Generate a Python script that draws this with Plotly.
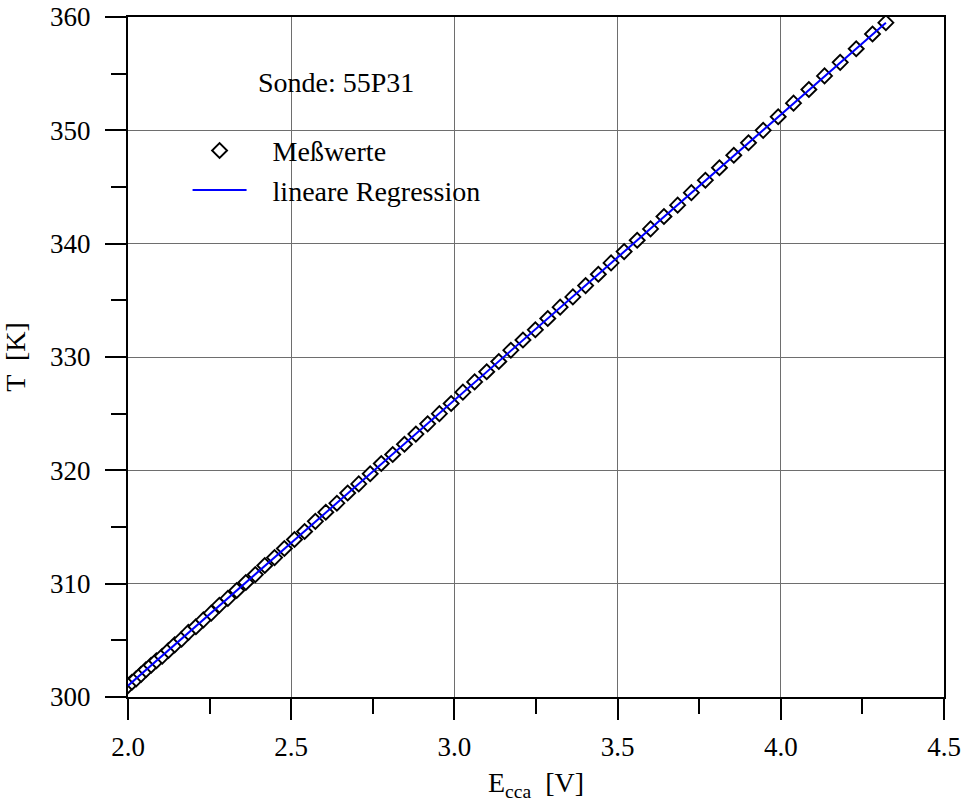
import plotly.graph_objects as go

# Measured values (E_cca in V, T in K)
E_meas = [2.000, 2.012, 2.025, 2.040, 2.055, 2.071, 2.087, 2.105, 2.124, 2.143,
          2.164, 2.185, 2.208, 2.231, 2.255, 2.280, 2.306, 2.333, 2.361, 2.390,
          2.419, 2.449, 2.479, 2.510, 2.541, 2.574, 2.606, 2.640, 2.673, 2.707,
          2.742, 2.776, 2.811, 2.847, 2.882, 2.918, 2.954, 2.990, 3.026, 3.062,
          3.099, 3.136, 3.173, 3.210, 3.248, 3.286, 3.324, 3.363, 3.402, 3.441,
          3.480, 3.520, 3.560, 3.601, 3.642, 3.684, 3.726, 3.769, 3.812, 3.856,
          3.901, 3.946, 3.992, 4.039, 4.086, 4.134, 4.182, 4.231, 4.281, 4.322]
T_meas = [301.0, 301.3, 301.6, 302.0, 302.4, 302.8, 303.2, 303.6, 304.1, 304.6,
          305.1, 305.7, 306.2, 306.8, 307.4, 308.1, 308.7, 309.4, 310.1, 310.8,
          311.6, 312.3, 313.1, 313.9, 314.6, 315.5, 316.3, 317.1, 318.0, 318.8,
          319.7, 320.6, 321.4, 322.3, 323.2, 324.1, 325.0, 325.9, 326.9, 327.8,
          328.7, 329.6, 330.6, 331.5, 332.4, 333.4, 334.4, 335.3, 336.3, 337.3,
          338.3, 339.3, 340.3, 341.3, 342.4, 343.4, 344.5, 345.6, 346.7, 347.8,
          348.9, 350.0, 351.2, 352.4, 353.6, 354.8, 356.0, 357.2, 358.5, 359.5]

# Linear regression line endpoints
E_fit = [2.000, 4.322]
T_fit = [301.0, 359.5]

x_ticks = [2.0, 2.5, 3.0, 3.5, 4.0, 4.5]
x_tick_labels = ["2.0", "2.5", "3.0", "3.5", "4.0", "4.5"]
y_ticks = [300, 310, 320, 330, 340, 350, 360]
y_tick_labels = ["300", "310", "320", "330", "340", "350", "360"]

FONT = "Liberation Serif"
FS_TICK = 27
FS = 28
NB = "\u00a0"

fig = go.Figure()
fig.add_trace(go.Scatter(
    x=E_meas, y=T_meas, mode="markers", name=NB * 3 + "Meßwerte",
    marker=dict(symbol="diamond", size=11.5, color="white",
                line=dict(color="black", width=1.9)),
))
fig.add_trace(go.Scatter(
    x=E_fit, y=T_fit, mode="lines", name=NB * 3 + "lineare Regression",
    line=dict(color="#0000ff", width=2),
))

axis_common = dict(
    showline=True, linecolor="black", linewidth=2, mirror=True,
    showgrid=True, gridcolor="#6e6e6e", gridwidth=1,
    zeroline=False, automargin=False, ticklabeloverflow="allow",
    ticks="outside", tickcolor="black", tickwidth=2, ticklen=21,
    tickfont=dict(family=FONT, size=FS_TICK, color="black"),
)

fig.update_xaxes(
    range=[2.0, 4.5], tickvals=x_ticks, ticktext=x_tick_labels,
    ticklabelstandoff=4,
    minor=dict(dtick=0.25, tick0=2.0, ticks="outside", ticklen=15,
               tickwidth=2, tickcolor="black", showgrid=False),
    title=dict(text="E<sub>cca</sub>  [V]", font=dict(family=FONT, size=FS, color="black")),
    **axis_common,
)
fig.update_yaxes(
    range=[300, 360], tickvals=y_ticks, ticktext=y_tick_labels,
    ticklabelstandoff=9,
    minor=dict(dtick=5, tick0=300, ticks="outside", ticklen=15,
               tickwidth=2, tickcolor="black", showgrid=False),
    title=dict(text="T  [K]", font=dict(family=FONT, size=FS, color="black"),
               standoff=22),
    **axis_common,
)

fig.add_shape(type="rect", xref="paper", yref="paper",
              x0=0.0515, x1=0.458, y0=0.706, y1=0.957,
              fillcolor="white", line=dict(width=0), layer="between")

fig.add_annotation(text="Sonde: 55P31", xref="paper", yref="paper",
                   x=0.255, y=0.904, xanchor="center", yanchor="middle",
                   showarrow=False,
                   font=dict(family=FONT, size=FS, color="black"))

fig.update_layout(
    template="none",
    width=963, height=803,
    margin=dict(l=128, r=19, t=17, b=106),
    paper_bgcolor="white", plot_bgcolor="white",
    font=dict(family=FONT, size=FS, color="black"),
    showlegend=True,
    legend=dict(x=0.073, y=0.84, xanchor="left", yanchor="top",
                bgcolor="rgba(0,0,0,0)", itemwidth=54, tracegroupgap=0,
                font=dict(family=FONT, size=FS, color="black")),
)

fig.write_html("out.html",
               config={"displayModeBar": False},
               post_script="document.body.style.margin='0';"
                           "document.body.style.overflow='hidden';")
